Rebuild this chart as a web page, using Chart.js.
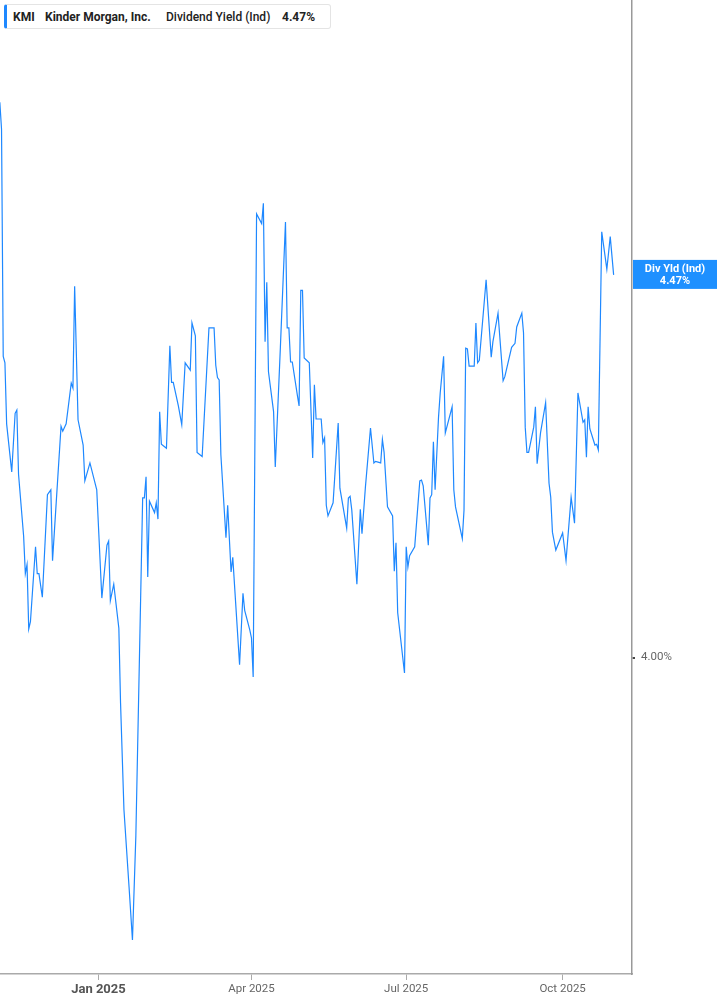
<!DOCTYPE html>
<html>
<head>
<meta charset="utf-8">
<script src="https://cdn.jsdelivr.net/npm/chart.js@4.4.1/dist/chart.umd.min.js"></script>
<style>
  body { margin: 0; background: #fff; }
  #wrap { position: relative; width: 717px; height: 1005px; }
  #legend {
    position: absolute; left: 4px; top: 4px; width: 327px; height: 25px;
    border: 1px solid #e4e4e4; border-left: 3px solid #1e88ff; border-radius: 3px;
    background: #fff; font-family: Roboto, "Liberation Sans", sans-serif; font-size: 12px;
    color: #222; box-sizing: border-box;
  }
  #legend span { position: absolute; top: 5px; white-space: nowrap; }
</style>
</head>
<body>
<div id="wrap">
  <canvas id="myChart" width="717" height="1005"></canvas>
  <div id="legend">
    <span style="left:6px;font-weight:700">KMI</span>
    <span style="left:38px;font-weight:700">Kinder Morgan, Inc.</span>
    <span style="left:159px;font-weight:500">Dividend Yield (Ind)</span>
    <span style="left:275px;font-weight:700">4.47%</span>
  </div>
</div>
<script>
// KMI dividend yield (Ind), in %
var dates = [
  '2024-11-04','2024-11-05','2024-11-06','2024-11-07','2024-11-08','2024-11-11','2024-11-13','2024-11-14','2024-11-15','2024-11-18',
  '2024-11-19','2024-11-20','2024-11-21','2024-11-22','2024-11-25','2024-11-26','2024-11-27','2024-11-29','2024-12-02','2024-12-04',
  '2024-12-05','2024-12-10','2024-12-11','2024-12-13','2024-12-16','2024-12-17','2024-12-18','2024-12-20','2024-12-23','2024-12-24',
  '2024-12-27','2024-12-31','2025-01-03','2025-01-06','2025-01-07','2025-01-08','2025-01-10','2025-01-13','2025-01-14','2025-01-16',
  '2025-01-19','2025-01-21','2025-01-23','2025-01-27','2025-01-28','2025-01-29','2025-01-30','2025-01-31','2025-02-03','2025-02-04',
  '2025-02-05','2025-02-06','2025-02-07','2025-02-10','2025-02-12','2025-02-13','2025-02-14','2025-02-17','2025-02-19','2025-02-21',
  '2025-02-24','2025-02-25','2025-02-27','2025-02-28','2025-03-03','2025-03-07','2025-03-10','2025-03-11','2025-03-12','2025-03-13',
  '2025-03-14','2025-03-17','2025-03-18','2025-03-20','2025-03-21','2025-03-25','2025-03-27','2025-03-28','2025-03-31','2025-04-01',
  '2025-04-02','2025-04-04','2025-04-07','2025-04-08','2025-04-09','2025-04-10','2025-04-11','2025-04-14','2025-04-15','2025-04-18',
  '2025-04-21','2025-04-22','2025-04-23','2025-04-24','2025-04-25','2025-04-28','2025-04-29','2025-04-30','2025-05-01','2025-05-02',
  '2025-05-05','2025-05-07','2025-05-08','2025-05-09','2025-05-12','2025-05-13','2025-05-14','2025-05-15','2025-05-16','2025-05-19',
  '2025-05-22','2025-05-23','2025-05-27','2025-05-28','2025-05-29','2025-05-30','2025-06-02','2025-06-04','2025-06-05','2025-06-07',
  '2025-06-10','2025-06-12','2025-06-13','2025-06-16','2025-06-17','2025-06-18','2025-06-20','2025-06-23','2025-06-24','2025-06-25',
  '2025-06-26','2025-06-30','2025-07-01','2025-07-02','2025-07-03','2025-07-06','2025-07-09','2025-07-10','2025-07-11','2025-07-14',
  '2025-07-15','2025-07-16','2025-07-17','2025-07-18','2025-07-20','2025-07-21','2025-07-23','2025-07-24','2025-07-28','2025-07-29',
  '2025-07-30','2025-08-03','2025-08-04','2025-08-05','2025-08-06','2025-08-07','2025-08-10','2025-08-11','2025-08-12','2025-08-13',
  '2025-08-17','2025-08-20','2025-08-21','2025-08-24','2025-08-27','2025-08-28','2025-09-01','2025-09-03','2025-09-04','2025-09-07',
  '2025-09-08','2025-09-09','2025-09-10','2025-09-11','2025-09-14','2025-09-15','2025-09-16','2025-09-18','2025-09-21','2025-09-23',
  '2025-09-24','2025-09-25','2025-09-27','2025-10-01','2025-10-03','2025-10-06','2025-10-08','2025-10-10','2025-10-13','2025-10-14',
  '2025-10-15','2025-10-16','2025-10-17','2025-10-20','2025-10-21','2025-10-22','2025-10-24','2025-10-27','2025-10-29','2025-10-31'
];
var yields = [
  4.682,4.649,4.370,4.362,4.287,4.228,4.300,4.304,4.225,4.149,
  4.103,4.114,4.035,4.044,4.136,4.103,4.103,4.074,4.200,4.206,
  4.119,4.284,4.278,4.287,4.337,4.331,4.456,4.292,4.261,4.217,
  4.239,4.206,4.073,4.138,4.143,4.070,4.090,4.036,3.944,3.813,
  3.718,3.653,3.781,4.196,4.196,4.222,4.099,4.192,4.178,4.190,
  4.170,4.302,4.262,4.257,4.383,4.338,4.338,4.309,4.286,4.362,
  4.353,4.411,4.395,4.252,4.247,4.405,4.405,4.359,4.344,4.341,
  4.249,4.147,4.187,4.105,4.123,3.991,4.079,4.058,4.034,4.024,
  3.976,4.545,4.533,4.558,4.388,4.461,4.351,4.302,4.234,4.381,
  4.535,4.405,4.405,4.363,4.363,4.322,4.309,4.451,4.451,4.368,
  4.362,4.245,4.335,4.293,4.293,4.264,4.270,4.187,4.174,4.190,
  4.288,4.208,4.159,4.196,4.198,4.181,4.090,4.182,4.152,4.209,
  4.282,4.239,4.241,4.239,4.268,4.252,4.185,4.174,4.106,4.141,
  4.055,3.981,4.136,4.111,4.125,4.136,4.217,4.218,4.211,4.138,
  4.196,4.200,4.265,4.206,4.295,4.325,4.370,4.276,4.308,4.206,
  4.185,4.146,4.181,4.380,4.379,4.358,4.358,4.411,4.362,4.365,
  4.464,4.369,4.388,4.423,4.340,4.345,4.381,4.386,4.406,4.423,
  4.399,4.283,4.252,4.252,4.283,4.308,4.238,4.276,4.313,4.214,
  4.197,4.154,4.132,4.153,4.119,4.197,4.165,4.325,4.289,4.292,
  4.246,4.308,4.281,4.261,4.262,4.255,4.523,4.477,4.517,4.470
];
var tickDates = ['2025-01-01', '2025-04-01', '2025-07-01', '2025-10-01'];
var tickLabels = ['Jan 2025', 'Apr 2025', 'Jul 2025', 'Oct 2025'];
var yTicks = [4.00];
var yTickLabels = ['4.00%'];
var lastLabel = ['Div Yld (Ind)', '4.47%'];

// days since 1 Jan 2025 (no date adapter available, so plain numbers)
function dayNum(s) {
  var p = s.split('-');
  return (Date.UTC(+p[0], +p[1] - 1, +p[2]) - Date.UTC(2025, 0, 1)) / 86400000;
}

var points = dates.map(function (d, i) { return { x: dayNum(d), y: yields[i] }; });
var lineColor = 'rgb(30,136,255)';

// blue value box on the right axis at the last value
var lastValueBox = {
  id: 'lastValueBox',
  afterDraw: function (chart) {
    var ctx = chart.ctx;
    var y = chart.scales.y.getPixelForValue(yields[yields.length - 1]);
    var left = chart.chartArea.right + 1;
    var w = chart.width - left;
    ctx.save();
    ctx.fillStyle = '#1e90ff';
    ctx.fillRect(left, y - 15, w, 29);
    ctx.fillStyle = '#fff';
    ctx.font = 'bold 11px Roboto, "Liberation Sans", sans-serif';
    ctx.textAlign = 'center';
    ctx.textBaseline = 'middle';
    ctx.fillText(lastLabel[0], left + w / 2, y - 6);
    ctx.fillText(lastLabel[1], left + w / 2, y + 6);
    ctx.restore();
  }
};

var ctx = document.getElementById('myChart').getContext('2d');
var chart = new Chart(ctx, {
  type: 'line',
  data: {
    datasets: [{
      label: 'Div Yld (Ind)',
      data: points,
      borderColor: lineColor,
      borderWidth: 1.2,
      pointRadius: 0,
      tension: 0,
      fill: false
    }]
  },
  options: {
    responsive: false,
    animation: false,
    layout: { padding: 0 },
    plugins: { legend: { display: false }, tooltip: { enabled: false } },
    scales: {
      x: {
        type: 'linear',
        min: -57.9,
        max: 313.8,
        afterFit: function (s) { s.height = 31; s.paddingLeft = 0; s.paddingRight = 0; },
        afterBuildTicks: function (s) {
          s.ticks = tickDates.map(function (d) { return { value: dayNum(d) }; });
        },
        grid: { drawOnChartArea: false, drawTicks: true, tickLength: 6, color: '#aaa' },
        border: { display: true, color: '#aaa', width: 1.5 },
        ticks: {
          padding: 2,
          maxRotation: 0,
          color: function (c) { return c.index === 0 ? '#555' : '#666'; },
          font: function (c) {
            return c.index === 0
              ? { family: 'Roboto, "Liberation Sans", sans-serif', size: 13, weight: 'bold' }
              : { family: 'Roboto, "Liberation Sans", sans-serif', size: 11.5 };
          },
          callback: function (v, i) { return tickLabels[i]; }
        }
      },
      y: {
        position: 'right',
        min: 3.6112,
        max: 4.8077,
        afterFit: function (s) { s.width = 85; s.paddingTop = 0; s.paddingBottom = 0; },
        afterBuildTicks: function (s) {
          s.ticks = yTicks.map(function (v) { return { value: v }; });
        },
        grid: { drawOnChartArea: false, drawTicks: true, tickLength: 3, color: '#444', lineWidth: 2 },
        border: { display: true, color: '#999', width: 1.5 },
        ticks: {
          padding: 6,
          color: '#666',
          font: { family: 'Roboto, "Liberation Sans", sans-serif', size: 11.5 },
          callback: function (v, i) { return yTickLabels[i]; }
        }
      }
    }
  },
  plugins: [lastValueBox]
});
</script>
</body>
</html>
